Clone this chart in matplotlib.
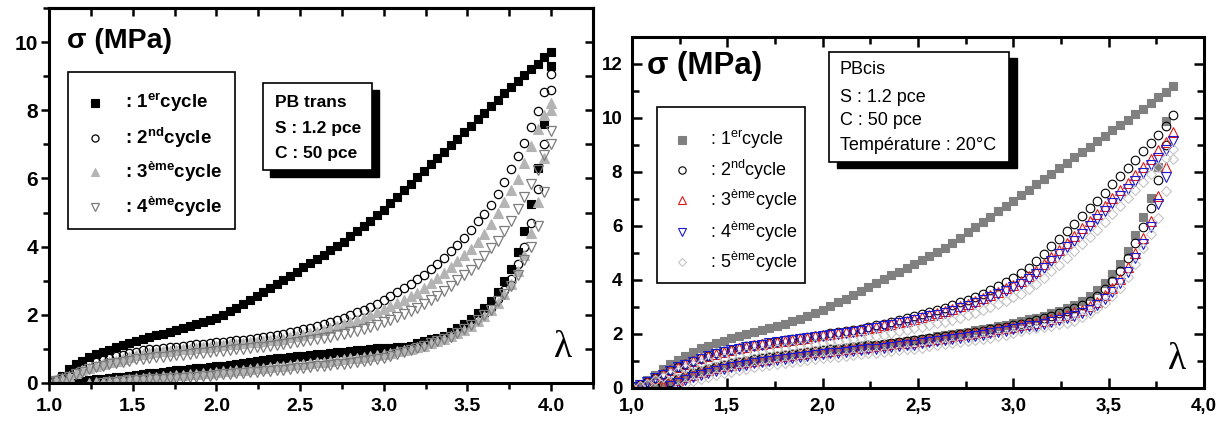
import numpy as np
import matplotlib
matplotlib.use('Agg')
import matplotlib.pyplot as plt
from matplotlib.patches import Rectangle
from matplotlib.ticker import MultipleLocator, FuncFormatter

plt.rcParams['font.family'] = ['Liberation Sans', 'DejaVu Sans']
plt.rcParams['mathtext.fontset'] = 'custom'
plt.rcParams['mathtext.rm'] = 'Liberation Sans'
plt.rcParams['mathtext.bf'] = 'Liberation Sans:bold'
plt.rcParams['mathtext.it'] = 'Liberation Sans:italic'

nan = np.nan

# ---------------- PB trans (left) : lambda 1.00 .. 4.00, step 0.04 ----------------
lam_trans = np.round(np.arange(1.0, 4.0001, 0.04), 2)

trans_c1_up = [
    0.02, 0.08, 0.22, 0.40, 0.55, 0.66, 0.76, 0.84, 0.91, 0.98,
    1.05, 1.11, 1.17, 1.23, 1.30, 1.35, 1.40, 1.45, 1.50, 1.55,
    1.60, 1.66, 1.72, 1.78, 1.84, 1.91, 2.00, 2.10, 2.21, 2.32,
    2.43, 2.55, 2.67, 2.79, 2.91, 3.03, 3.15, 3.27, 3.39, 3.51,
    3.63, 3.76, 3.89, 4.02, 4.15, 4.30, 4.45, 4.60, 4.76, 4.92,
    5.08, 5.27, 5.46, 5.65, 5.84, 6.03, 6.22, 6.41, 6.60, 6.79,
    6.98, 7.17, 7.36, 7.55, 7.74, 7.93, 8.12, 8.31, 8.50, 8.69,
    8.86, 9.03, 9.20, 9.37, 9.55, 9.70]
trans_c1_down = [
    nan, nan, nan, nan, 0.02, 0.05, 0.08, 0.11, 0.13, 0.15,
    0.17, 0.19, 0.21, 0.23, 0.26, 0.28, 0.30, 0.32, 0.35, 0.37,
    0.39, 0.41, 0.43, 0.45, 0.47, 0.49, 0.51, 0.53, 0.56, 0.58,
    0.61, 0.64, 0.67, 0.70, 0.72, 0.74, 0.76, 0.78, 0.80, 0.82,
    0.84, 0.86, 0.88, 0.90, 0.92, 0.94, 0.96, 0.98, 1.00, 1.02,
    1.03, 1.04, 1.05, 1.07, 1.10, 1.17, 1.23, 1.28, 1.33, 1.39,
    1.50, 1.61, 1.74, 1.88, 2.04, 2.21, 2.40, 2.68, 3.00, 3.34,
    3.84, 4.45, 5.25, 6.30, 7.60, 9.30]
trans_c2_up = [
    0.05, 0.10, 0.18, 0.28, 0.38, 0.47, 0.55, 0.62, 0.68, 0.73,
    0.78, 0.83, 0.88, 0.92, 0.96, 0.99, 1.01, 1.03, 1.05, 1.07,
    1.09, 1.11, 1.13, 1.15, 1.17, 1.19, 1.21, 1.23, 1.25, 1.27,
    1.30, 1.33, 1.36, 1.39, 1.42, 1.45, 1.49, 1.53, 1.57, 1.62,
    1.67, 1.73, 1.79, 1.85, 1.92, 1.99, 2.07, 2.15, 2.24, 2.33,
    2.43, 2.55, 2.67, 2.79, 2.91, 3.04, 3.18, 3.34, 3.50, 3.67,
    3.86, 4.05, 4.26, 4.50, 4.74, 4.97, 5.22, 5.55, 5.90, 6.28,
    6.65, 7.05, 7.50, 7.98, 8.55, 9.05]
trans_c2_down = [
    nan, nan, nan, nan, nan, 0.02, 0.05, 0.08, 0.10, 0.12,
    0.14, 0.16, 0.18, 0.20, 0.23, 0.25, 0.27, 0.29, 0.32, 0.34,
    0.36, 0.38, 0.40, 0.42, 0.44, 0.46, 0.48, 0.50, 0.53, 0.55,
    0.58, 0.61, 0.64, 0.67, 0.69, 0.71, 0.73, 0.75, 0.77, 0.79,
    0.81, 0.83, 0.85, 0.87, 0.89, 0.91, 0.93, 0.95, 0.97, 0.99,
    1.00, 1.01, 1.02, 1.03, 1.05, 1.09, 1.14, 1.19, 1.24, 1.30,
    1.39, 1.49, 1.60, 1.73, 1.87, 2.02, 2.20, 2.45, 2.72, 3.05,
    3.50, 4.00, 4.70, 5.70, 7.00, 8.60]
trans_c3_up = [
    0.05, 0.08, 0.14, 0.22, 0.30, 0.38, 0.45, 0.51, 0.56, 0.61,
    0.66, 0.71, 0.76, 0.81, 0.85, 0.88, 0.91, 0.93, 0.95, 0.97,
    0.99, 1.01, 1.03, 1.05, 1.07, 1.09, 1.11, 1.13, 1.15, 1.17,
    1.19, 1.21, 1.23, 1.25, 1.27, 1.30, 1.34, 1.38, 1.42, 1.46,
    1.51, 1.56, 1.61, 1.66, 1.72, 1.78, 1.85, 1.92, 2.00, 2.08,
    2.17, 2.26, 2.35, 2.44, 2.54, 2.65, 2.78, 2.92, 3.07, 3.23,
    3.40, 3.58, 3.76, 3.94, 4.14, 4.38, 4.66, 5.00, 5.32, 5.65,
    5.97, 6.45, 6.95, 7.45, 7.85, 8.20]
trans_c3_down = [
    nan, nan, nan, nan, nan, nan, 0.00, 0.02, 0.04, 0.06,
    0.08, 0.10, 0.12, 0.14, 0.15, 0.17, 0.18, 0.20, 0.21, 0.23,
    0.24, 0.26, 0.27, 0.29, 0.30, 0.32, 0.34, 0.35, 0.37, 0.39,
    0.41, 0.43, 0.45, 0.47, 0.49, 0.51, 0.53, 0.55, 0.57, 0.59,
    0.61, 0.63, 0.65, 0.67, 0.69, 0.72, 0.74, 0.77, 0.80, 0.83,
    0.86, 0.89, 0.93, 0.97, 1.01, 1.05, 1.10, 1.16, 1.23, 1.30,
    1.37, 1.46, 1.56, 1.68, 1.82, 1.98, 2.14, 2.36, 2.60, 2.90,
    3.28, 3.75, 4.40, 5.30, 6.60, 8.00]
trans_c4_up = [
    0.03, 0.06, 0.11, 0.18, 0.26, 0.33, 0.40, 0.46, 0.51, 0.56,
    0.60, 0.63, 0.66, 0.69, 0.71, 0.73, 0.75, 0.77, 0.79, 0.81,
    0.83, 0.85, 0.87, 0.89, 0.91, 0.93, 0.95, 0.97, 0.99, 1.01,
    1.03, 1.05, 1.07, 1.09, 1.11, 1.13, 1.16, 1.19, 1.22, 1.25,
    1.28, 1.32, 1.36, 1.40, 1.44, 1.49, 1.54, 1.59, 1.65, 1.71,
    1.78, 1.85, 1.93, 2.01, 2.10, 2.20, 2.31, 2.43, 2.56, 2.70,
    2.85, 3.01, 3.16, 3.32, 3.50, 3.72, 3.95, 4.18, 4.45, 4.75,
    5.09, 5.45, 5.85, 6.25, 6.70, 7.40]
trans_c4_down = [
    nan, nan, nan, nan, nan, nan, nan, nan, 0.00, 0.02,
    0.04, 0.06, 0.08, 0.09, 0.10, 0.11, 0.12, 0.13, 0.14, 0.15,
    0.16, 0.18, 0.19, 0.21, 0.22, 0.24, 0.25, 0.27, 0.28, 0.30,
    0.31, 0.33, 0.34, 0.36, 0.38, 0.39, 0.41, 0.43, 0.45, 0.47,
    0.49, 0.51, 0.53, 0.55, 0.57, 0.60, 0.62, 0.65, 0.68, 0.71,
    0.74, 0.78, 0.84, 0.90, 0.98, 1.03, 1.08, 1.16, 1.24, 1.30,
    1.36, 1.46, 1.58, 1.70, 1.84, 2.00, 2.15, 2.40, 2.62, 2.86,
    3.18, 3.60, 3.98, 4.60, 5.60, 7.00]

# ---------------- PB cis (right) : lambda 1.00 .. 3.84, step 0.04 ----------------
lam_cis = np.round(np.arange(1.0, 3.8401, 0.04), 2)

cis_c1_up = [
    0.05, 0.15, 0.30, 0.50, 0.70, 0.88, 1.04, 1.18, 1.34, 1.47,
    1.57, 1.66, 1.75, 1.84, 1.92, 1.99, 2.06, 2.14, 2.22, 2.30,
    2.38, 2.47, 2.57, 2.67, 2.78, 2.90, 3.03, 3.17, 3.31, 3.46,
    3.61, 3.75, 3.89, 4.03, 4.17, 4.30, 4.44, 4.58, 4.73, 4.88,
    5.04, 5.20, 5.38, 5.57, 5.76, 5.95, 6.14, 6.34, 6.54, 6.74,
    6.94, 7.14, 7.34, 7.54, 7.74, 7.94, 8.14, 8.34, 8.54, 8.74,
    8.94, 9.14, 9.34, 9.54, 9.74, 9.94, 10.14, 10.34, 10.55, 10.76,
    10.97, 11.18]
cis_c1_down = [
    nan, nan, nan, 0.00, 0.10, 0.22, 0.33, 0.44, 0.54, 0.63,
    0.71, 0.78, 0.84, 0.90, 0.95, 1.00, 1.05, 1.10, 1.14, 1.18,
    1.22, 1.26, 1.30, 1.34, 1.37, 1.40, 1.43, 1.46, 1.49, 1.52,
    1.55, 1.58, 1.61, 1.64, 1.67, 1.70, 1.73, 1.77, 1.81, 1.85,
    1.93, 1.97, 2.01, 2.05, 2.09, 2.14, 2.19, 2.24, 2.29, 2.35,
    2.41, 2.47, 2.54, 2.61, 2.68, 2.76, 2.85, 2.95, 3.07, 3.22,
    3.40, 3.62, 3.90, 4.22, 4.60, 5.08, 5.65, 6.35, 7.05, 8.20,
    9.90, nan]
cis_c2_up = [
    0.05, 0.12, 0.24, 0.38, 0.52, 0.66, 0.79, 0.90, 1.01, 1.11,
    1.20, 1.28, 1.36, 1.42, 1.48, 1.54, 1.59, 1.64, 1.68, 1.72,
    1.76, 1.80, 1.84, 1.88, 1.93, 1.98, 2.02, 2.06, 2.10, 2.15,
    2.20, 2.26, 2.32, 2.38, 2.45, 2.52, 2.59, 2.66, 2.73, 2.81,
    2.89, 2.98, 3.07, 3.17, 3.27, 3.38, 3.50, 3.63, 3.77, 3.92,
    4.08, 4.25, 4.46, 4.70, 4.98, 5.25, 5.52, 5.80, 6.08, 6.36,
    6.65, 6.94, 7.24, 7.54, 7.84, 8.14, 8.45, 8.76, 9.07, 9.38,
    9.72, 10.10]
cis_c2_down = [
    nan, nan, nan, 0.02, 0.12, 0.24, 0.35, 0.45, 0.55, 0.64,
    0.72, 0.79, 0.85, 0.91, 0.96, 1.01, 1.06, 1.10, 1.14, 1.18,
    1.22, 1.26, 1.30, 1.34, 1.37, 1.40, 1.43, 1.46, 1.49, 1.52,
    1.55, 1.58, 1.61, 1.64, 1.67, 1.70, 1.73, 1.76, 1.80, 1.84,
    1.88, 1.92, 1.96, 2.00, 2.04, 2.08, 2.12, 2.17, 2.22, 2.27,
    2.32, 2.38, 2.44, 2.51, 2.59, 2.67, 2.76, 2.86, 2.96, 3.08,
    3.22, 3.40, 3.66, 3.98, 4.34, 4.80, 5.36, 5.96, 6.65, 7.70,
    9.00, nan]
cis_c3_up = [
    0.05, 0.12, 0.24, 0.38, 0.52, 0.66, 0.78, 0.89, 1.00, 1.10,
    1.19, 1.27, 1.35, 1.41, 1.47, 1.53, 1.58, 1.63, 1.67, 1.71,
    1.75, 1.79, 1.83, 1.87, 1.92, 1.97, 2.00, 2.04, 2.08, 2.12,
    2.16, 2.21, 2.27, 2.32, 2.38, 2.44, 2.50, 2.57, 2.63, 2.70,
    2.77, 2.85, 2.93, 3.02, 3.11, 3.21, 3.32, 3.44, 3.56, 3.70,
    3.83, 3.97, 4.16, 4.35, 4.60, 4.86, 5.12, 5.38, 5.64, 5.91,
    6.19, 6.46, 6.75, 7.04, 7.32, 7.60, 7.90, 8.20, 8.50, 8.80,
    9.12, 9.47]
cis_c3_down = [
    nan, nan, nan, nan, 0.07, 0.19, 0.30, 0.40, 0.50, 0.59,
    0.67, 0.74, 0.80, 0.86, 0.91, 0.96, 1.01, 1.05, 1.09, 1.13,
    1.17, 1.21, 1.25, 1.29, 1.32, 1.35, 1.38, 1.41, 1.44, 1.47,
    1.50, 1.53, 1.56, 1.59, 1.62, 1.65, 1.68, 1.71, 1.75, 1.79,
    1.83, 1.87, 1.91, 1.95, 1.99, 2.03, 2.07, 2.12, 2.17, 2.22,
    2.27, 2.33, 2.38, 2.42, 2.49, 2.56, 2.64, 2.72, 2.80, 2.90,
    3.02, 3.20, 3.45, 3.72, 4.05, 4.48, 5.00, 5.55, 6.20, 7.10,
    8.20, nan]
cis_c4_up = [
    0.04, 0.11, 0.22, 0.36, 0.50, 0.64, 0.76, 0.87, 0.98, 1.08,
    1.17, 1.25, 1.33, 1.39, 1.45, 1.51, 1.56, 1.61, 1.65, 1.69,
    1.73, 1.77, 1.81, 1.85, 1.89, 1.94, 1.97, 2.01, 2.05, 2.08,
    2.12, 2.17, 2.23, 2.28, 2.34, 2.40, 2.46, 2.52, 2.58, 2.65,
    2.72, 2.79, 2.87, 2.96, 3.05, 3.14, 3.25, 3.36, 3.48, 3.61,
    3.73, 3.86, 4.04, 4.22, 4.46, 4.71, 4.96, 5.21, 5.46, 5.72,
    5.99, 6.26, 6.55, 6.84, 7.11, 7.38, 7.68, 7.96, 8.25, 8.53,
    8.83, 9.15]
cis_c4_down = [
    nan, nan, nan, nan, nan, 0.09, 0.20, 0.30, 0.40, 0.49,
    0.57, 0.64, 0.70, 0.76, 0.81, 0.86, 0.91, 0.95, 0.99, 1.03,
    1.07, 1.11, 1.15, 1.19, 1.22, 1.25, 1.28, 1.31, 1.34, 1.37,
    1.40, 1.43, 1.46, 1.49, 1.52, 1.55, 1.58, 1.61, 1.65, 1.69,
    1.73, 1.77, 1.81, 1.85, 1.89, 1.93, 1.97, 2.02, 2.07, 2.12,
    2.17, 2.23, 2.28, 2.31, 2.38, 2.45, 2.52, 2.60, 2.68, 2.78,
    2.90, 3.07, 3.30, 3.55, 3.90, 4.30, 4.80, 5.35, 5.95, 6.80,
    7.80, nan]
cis_c5_up = [
    0.02, 0.06, 0.15, 0.28, 0.40, 0.52, 0.63, 0.73, 0.84, 0.93,
    1.01, 1.08, 1.12, 1.17, 1.22, 1.28, 1.33, 1.37, 1.40, 1.44,
    1.48, 1.52, 1.55, 1.59, 1.64, 1.68, 1.71, 1.74, 1.76, 1.80,
    1.84, 1.89, 1.94, 1.98, 2.04, 2.10, 2.16, 2.22, 2.27, 2.33,
    2.39, 2.46, 2.53, 2.61, 2.69, 2.78, 2.88, 2.99, 3.11, 3.24,
    3.38, 3.50, 3.66, 3.85, 4.09, 4.33, 4.57, 4.82, 5.07, 5.32,
    5.59, 5.86, 6.14, 6.44, 6.74, 7.04, 7.34, 7.64, 7.92, 8.20,
    8.51, 8.86]
cis_c5_down = [
    nan, nan, nan, nan, nan, nan, 0.05, 0.15, 0.25, 0.34,
    0.42, 0.49, 0.55, 0.61, 0.66, 0.71, 0.76, 0.80, 0.84, 0.88,
    0.92, 0.96, 1.00, 1.04, 1.07, 1.10, 1.13, 1.16, 1.19, 1.22,
    1.25, 1.28, 1.31, 1.34, 1.37, 1.40, 1.43, 1.46, 1.50, 1.54,
    1.58, 1.62, 1.66, 1.70, 1.74, 1.78, 1.82, 1.87, 1.92, 1.97,
    2.03, 2.10, 2.17, 2.23, 2.27, 2.31, 2.36, 2.42, 2.50, 2.63,
    2.78, 2.95, 3.15, 3.40, 3.70, 4.10, 4.60, 5.20, 5.70, 6.30,
    7.30, 8.50]

trans_labels = [': 1$^{\\mathbf{er}}$cycle', ': 2$^{\\mathbf{nd}}$cycle',
                ': 3$^{\\mathbf{ème}}$cycle', ': 4$^{\\mathbf{ème}}$cycle']
cis_labels = [': 1$^{\\mathrm{er}}$cycle', ': 2$^{\\mathrm{nd}}$cycle',
              ': 3$^{\\mathrm{ème}}$cycle', ': 4$^{\\mathrm{ème}}$cycle',
              ': 5$^{\\mathrm{ème}}$cycle']
trans_info = ['PB trans', 'S : 1.2 pce', 'C : 50 pce']
cis_info = ['PBcis', 'S : 1.2 pce', 'C : 50 pce', 'Température : 20°C']

trans_styles = [
    dict(marker='s', mec='black', mfc='black', ms=6.3, mew=0.8),
    dict(marker='o', mec='black', mfc='none', ms=6.0, mew=0.9),
    dict(marker='^', mec='#b4b4b4', mfc='#b4b4b4', ms=7.0, mew=0.8),
    dict(marker='v', mec='#7c7c7c', mfc='none', ms=7.0, mew=0.9),
]
cis_styles = [
    dict(marker='s', mec='#808080', mfc='#808080', ms=6.3, mew=0.8),
    dict(marker='o', mec='black', mfc='none', ms=6.2, mew=0.8),
    dict(marker='^', mec='#e01818', mfc='none', ms=6.8, mew=0.8),
    dict(marker='v', mec='#1a1ad0', mfc='none', ms=6.8, mew=0.8),
    dict(marker='D', mec='#c4c4c4', mfc='none', ms=5.2, mew=0.8),
]

fig = plt.figure(figsize=(12.26, 4.21), dpi=100)
ax1 = fig.add_axes([49 / 1226, 38 / 421, 544 / 1226, 375 / 421])
ax2 = fig.add_axes([632 / 1226, 33 / 421, 572 / 1226, 351 / 421])

trans_up = [trans_c1_up, trans_c2_up, trans_c3_up, trans_c4_up]
trans_down = [trans_c1_down, trans_c2_down, trans_c3_down, trans_c4_down]
for up, down, st in zip(trans_up, trans_down, trans_styles):
    ax1.plot(lam_trans, up, ls='none', **st)
    ax1.plot(lam_trans, down, ls='none', **st)

cis_up = [cis_c1_up, cis_c2_up, cis_c3_up, cis_c4_up, cis_c5_up]
cis_down = [cis_c1_down, cis_c2_down, cis_c3_down, cis_c4_down, cis_c5_down]
for up, down, st in zip(cis_up, cis_down, cis_styles):
    ax2.plot(lam_cis, up, ls='none', **st)
    ax2.plot(lam_cis, down, ls='none', **st)

# axes / ticks
ax1.set_xlim(1.0, 4.25)
ax1.set_ylim(0, 11)
ax2.set_xlim(1.0, 4.0)
ax2.set_ylim(0, 13)
for ax in (ax1, ax2):
    ax.xaxis.set_major_locator(MultipleLocator(0.5))
    ax.xaxis.set_minor_locator(MultipleLocator(0.25))
    ax.yaxis.set_major_locator(MultipleLocator(2))
    ax.yaxis.set_minor_locator(MultipleLocator(1))
    for sp in ax.spines.values():
        sp.set_linewidth(2.2)

ax1.tick_params(which='both', direction='out', width=1.8, labelsize=15, pad=2)
ax1.tick_params(which='major', length=6)
ax1.tick_params(which='minor', length=4)
ax1.tick_params(axis='x', labelsize=14, pad=5)
ax1.xaxis.set_major_formatter(FuncFormatter(lambda v, p: f'{v:.1f}'))
for lab in ax1.get_xticklabels() + ax1.get_yticklabels():
    lab.set_fontweight('bold')

secx = ax1.secondary_xaxis('top')
secx.xaxis.set_major_locator(MultipleLocator(0.5))
secx.xaxis.set_minor_locator(MultipleLocator(0.25))
secx.tick_params(which='both', direction='in', width=1.8, length=6, labeltop=False)
secx.spines['top'].set_linewidth(2.2)
secy = ax1.secondary_yaxis('right')
secy.yaxis.set_major_locator(MultipleLocator(2))
secy.yaxis.set_minor_locator(MultipleLocator(1))
secy.tick_params(which='both', direction='in', width=1.8, length=6, labelright=False)
secy.spines['right'].set_linewidth(2.2)

ax2.tick_params(which='both', direction='in', width=1.8, top=True, right=True,
                labelsize=13.5, pad=7)
ax2.tick_params(which='major', length=7)
ax2.tick_params(which='minor', length=5)
ax2.xaxis.set_major_formatter(FuncFormatter(lambda v, p: f'{v:.1f}'.replace('.', ',')))
for lab in ax2.get_xticklabels() + ax2.get_yticklabels():
    lab.set_fontweight('bold')


def box(ax, x0, y0, x1, y1, shadow=None):
    if shadow:
        dx, dy = shadow
        ax.add_patch(Rectangle((x0 + dx, y0 - dy), x1 - x0, y1 - y0, transform=ax.transAxes,
                               fc='black', ec='black', lw=1, zorder=5, clip_on=False))
    ax.add_patch(Rectangle((x0, y0), x1 - x0, y1 - y0, transform=ax.transAxes,
                           fc='white', ec='black', lw=1.2, zorder=6, clip_on=False))


# left legend
box(ax1, 0.035, 0.411, 0.342, 0.829)
for i, (lab, st) in enumerate(zip(trans_labels, trans_styles)):
    y = [0.747, 0.653, 0.563, 0.469][i]
    ax1.plot([0.0846], [y], transform=ax1.transAxes, ls='none', zorder=7, clip_on=False,
             **dict(st, ms=st['ms'] * 0.85))
    ax1.text(0.140, y, lab, transform=ax1.transAxes, va='center', fontsize=13.5,
             fontweight='bold', zorder=7)

# left info box
box(ax1, 0.393, 0.568, 0.594, 0.80, shadow=(0.013, 0.019))
for txt, y in zip(trans_info, [0.747, 0.68, 0.613]):
    ax1.text(0.415, y, txt, transform=ax1.transAxes, va='center', fontsize=12.5,
             fontweight='bold', zorder=7)

ax1.text(0.033, 0.912, 'σ (MPa)', transform=ax1.transAxes, va='center', fontsize=20.5,
         fontweight='bold')
ax1.text(0.945, 0.093, 'λ', transform=ax1.transAxes, va='center', ha='center',
         fontsize=27, family=['Liberation Serif', 'DejaVu Serif'])

# right legend
box(ax2, 0.0437, 0.299, 0.3024, 0.8006)
for i, (lab, st) in enumerate(zip(cis_labels, cis_styles)):
    y = [0.7066, 0.621, 0.5356, 0.4444, 0.359][i]
    ax2.plot([0.0874], [y], transform=ax2.transAxes, ls='none', zorder=7, clip_on=False,
             **dict(st, ms=st['ms'] * 0.85))
    ax2.text(0.136, y, lab, transform=ax2.transAxes, va='center', fontsize=13, zorder=7)

# right info box
box(ax2, 0.3444, 0.6439, 0.6591, 0.9573, shadow=(0.014, 0.017))
for txt, y in zip(cis_info, [0.906, 0.829, 0.761, 0.692]):
    ax2.text(0.3636, y, txt, transform=ax2.transAxes, va='center', fontsize=13, zorder=7)

ax2.text(0.026, 0.917, 'σ (MPa)', transform=ax2.transAxes, va='center', fontsize=22.5,
         fontweight='bold')
ax2.text(0.953, 0.08, 'λ', transform=ax2.transAxes, va='center', ha='center',
         fontsize=27, family=['Liberation Serif', 'DejaVu Serif'])

fig.savefig('out.png', dpi=100)
